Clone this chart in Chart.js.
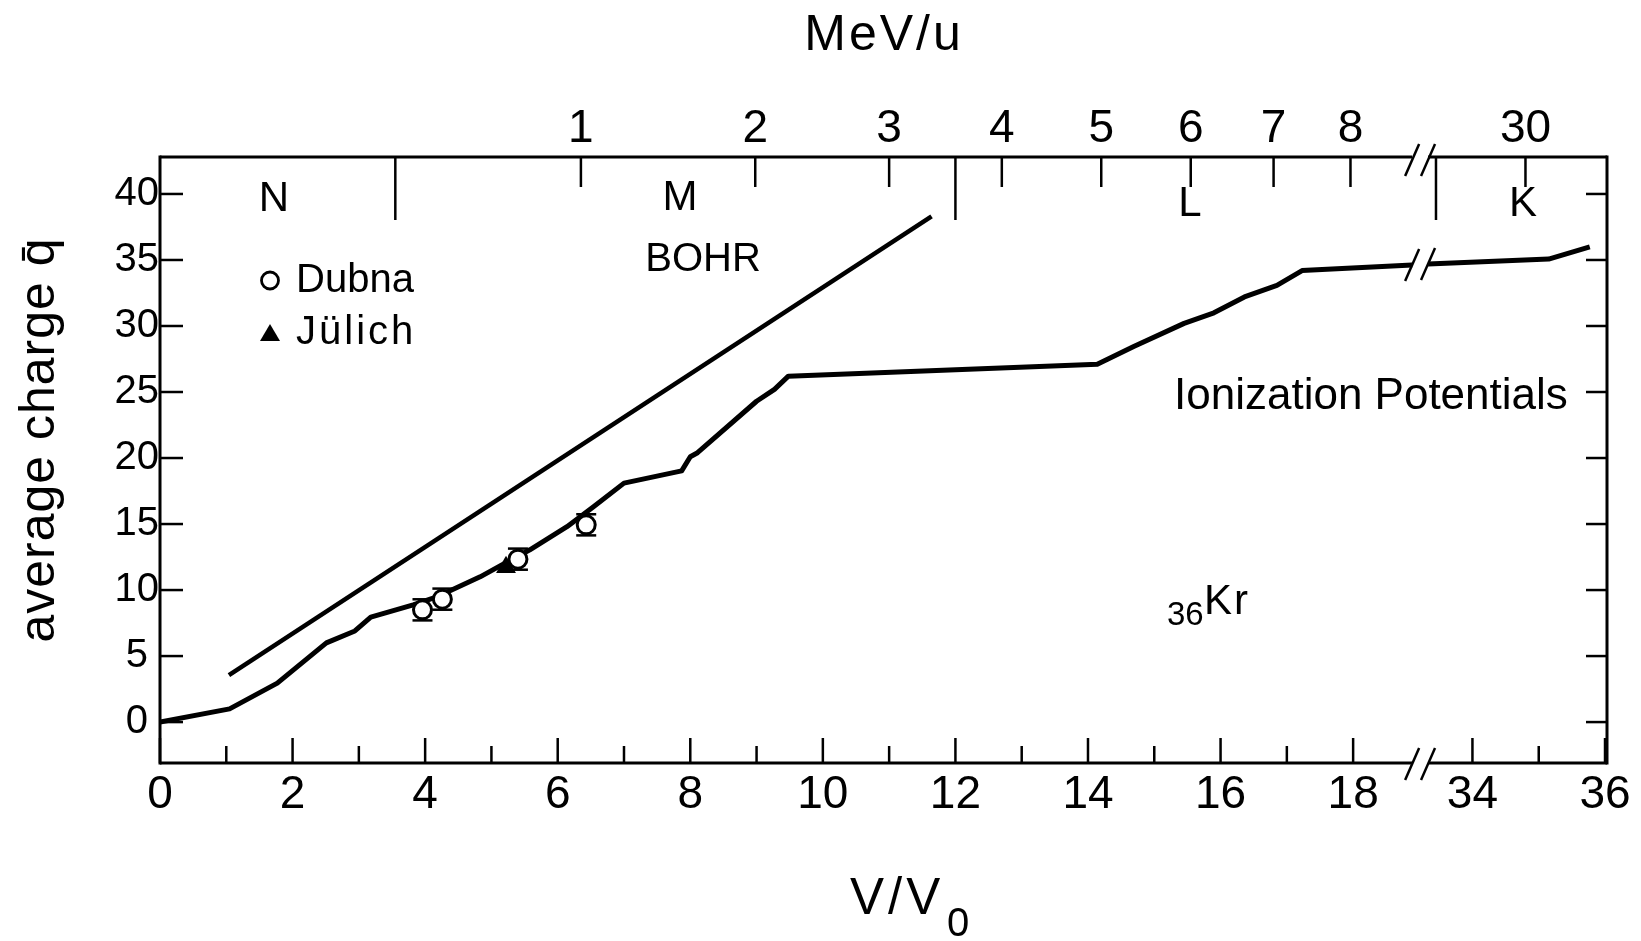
<!DOCTYPE html>
<html><head><meta charset="utf-8">
<script src="https://cdn.jsdelivr.net/npm/chart.js@4.4.1/dist/chart.umd.min.js"></script>
<style>html,body{margin:0;padding:0;background:#fff}#wrap{width:1641px;height:941px;position:relative}</style>
</head><body><div id="wrap"><canvas id="c"></canvas></div>
<script>
// ---------------- data ----------------
const vTicks = [0,2,4,6,8,10,12,14,16,18,34,36];
const vMinorTicks = [1,3,5,7,9,11,13,15,17,35];
const qTicks = [0,5,10,15,20,25,30,35,40];
const mevLabels = ['1','2','3','4','5','6','7','8','30'];
const mevAtV = [6.35,8.98,11.0,12.7,14.2,15.55,16.8,17.96,34.8];
const shellNames = ['N','M','L','K'];
const shellBoundV = [3.55,12.0,33.45];
const ionV1 = [0,1.05,1.77,2.51,2.94,3.18,3.82,4.12,4.40,4.83,5.13,5.58,6.14,6.54,7.0,7.87,8.0,8.11,9.0,9.27,9.48,14.14,14.69,15.45,15.9,16.36,16.85,17.23,18.89];
const ionQ1 = [0,1.0,2.95,6.0,6.9,7.95,8.88,9.38,10.0,11.0,11.83,13.05,14.8,16.3,18.1,19.03,20.1,20.4,24.3,25.2,26.2,27.1,28.45,30.2,31.0,32.2,33.07,34.2,34.62];
const ionV2 = [33.33,35.15,35.77];
const ionQ2 = [34.7,35.07,36.0];
const bohrV = [1.04,11.64];
const bohrQ = [3.56,38.3];
const dubnaV = [3.96,4.26,5.40,6.43];
const dubnaQ = [8.5,9.31,12.34,14.94];
const dubnaErr = [0.8,0.8,0.8,0.8];
const julichV = [5.22];
const julichQ = [11.73];

// ---------------- broken axis mapping ----------------
const GAP_LO = 19.0, SHIFT = 14.2;       // V/V0 above 19 lives on the right-hand segment
function toAxis(v){ return v > GAP_LO ? v - SHIFT : v; }
const BREAK_A = 18.89, BREAK_B = 19.13;  // axis units of the break marks

const FONT = "'Liberation Sans', Arial, sans-serif";
const pts = (xs, ys) => xs.map((v,i)=>({x: toAxis(v), y: ys[i]}));

function seg(ctx,x1,y1,x2,y2,w){ctx.beginPath();ctx.lineWidth=w;ctx.moveTo(x1,y1);ctx.lineTo(x2,y2);ctx.stroke();}
function txt(ctx,s,x,y,size,align,ls){
  ctx.font = size+'px '+FONT; ctx.textAlign = align||'center'; ctx.textBaseline='middle';
  ctx.letterSpacing = (ls||0)+'px'; ctx.fillText(s,x,y); ctx.letterSpacing='0px';
}

const decor = {
  id:'decor',
  beforeDatasetDraw(chart, args){
    if (args.index !== 0) return;
    const ctx = chart.ctx, xs = chart.scales.x, ys = chart.scales.y;
    ctx.save(); ctx.strokeStyle='#000';
    dubnaV.forEach((v,i)=>{
      const x = xs.getPixelForValue(toAxis(v));
      const y1 = ys.getPixelForValue(dubnaQ[i]-dubnaErr[i]);
      const y2 = ys.getPixelForValue(dubnaQ[i]+dubnaErr[i]);
      seg(ctx,x,y1,x,y2,2.5);
      seg(ctx,x-10,y1,x+10,y1,2.5);
      seg(ctx,x-10,y2,x+10,y2,2.5);
    });
    ctx.restore();
  },
  afterDatasetsDraw(chart){
    const ctx = chart.ctx, xs = chart.scales.x, ys = chart.scales.y, ca = chart.chartArea;
    ctx.save(); ctx.strokeStyle='#000'; ctx.fillStyle='#000'; ctx.lineCap='butt';
    const bA = xs.getPixelForValue(BREAK_A), bB = xs.getPixelForValue(BREAK_B);
    // frame
    seg(ctx,ca.left,ca.top-1.5,ca.left,ca.bottom+1.5,3);
    seg(ctx,ca.right,ca.top-1.5,ca.right,ca.bottom+1.5,3);
    seg(ctx,ca.left,ca.top,bA,ca.top,3); seg(ctx,bB,ca.top,ca.right,ca.top,3);
    seg(ctx,ca.left,ca.bottom,bA,ca.bottom,3); seg(ctx,bB,ca.bottom,ca.right,ca.bottom,3);
    // break slashes
    const slash = (cx,cy)=>seg(ctx,cx-7,cy+16,cx+7,cy-16,2.5);
    [ca.top+3, ca.bottom+1].forEach(y=>{slash(bA,y);slash(bB,y);});
    slash(bA, ys.getPixelForValue(ionQ1[ionQ1.length-1]));
    slash(bB, ys.getPixelForValue(ionQ2[0]));
    // bottom ticks
    vTicks.forEach(v=>{const x=xs.getPixelForValue(toAxis(v)); seg(ctx,x,ca.bottom,x,ca.bottom-25,2.5);});
    vMinorTicks.forEach(v=>{const x=xs.getPixelForValue(toAxis(v)); seg(ctx,x,ca.bottom,x,ca.bottom-17,2.5);});
    // y ticks left & right
    qTicks.forEach(q=>{const y=ys.getPixelForValue(q); seg(ctx,ca.left,y,ca.left+23,y,2.5); seg(ctx,ca.right,y,ca.right-21,y,2.5);});
    // top MeV/u ticks
    mevAtV.forEach(v=>{const x=xs.getPixelForValue(toAxis(v)); seg(ctx,x,ca.top,x,ca.top+30,2.5);});
    shellBoundV.forEach(v=>{const x=xs.getPixelForValue(toAxis(v)); seg(ctx,x,ca.top,x,ca.top+63,2.5);});
    ctx.restore();
  },
  afterDraw(chart){
    const ctx = chart.ctx;
    ctx.save(); ctx.fillStyle='#000'; ctx.strokeStyle='#000';
    // axis titles
    txt(ctx,'MeV/u',884,36,50,'center',3);
    txt(ctx,'V/V',850,900,51,'left',4);
    txt(ctx,'0',947,925,40,'left');
    ctx.save(); ctx.translate(40,440); ctx.rotate(-Math.PI/2);
    txt(ctx,'average charge q\u0304',0,0,50,'center',1);
    ctx.restore();
    // shells
    const shellPos = [[274,199],[680,198],[1190,204],[1523,204]];
    shellNames.forEach((s,i)=>txt(ctx,s,shellPos[i][0],shellPos[i][1],42,'center'));
    txt(ctx,'BOHR',703,260,40,'center');
    // legend
    ctx.beginPath(); ctx.lineWidth=2.8; ctx.arc(270,280.5,8.5,0,Math.PI*2); ctx.fillStyle='#fff'; ctx.fill(); ctx.stroke();
    ctx.fillStyle='#000';
    txt(ctx,'Dubna',296,281,40,'left');
    ctx.beginPath(); ctx.moveTo(270,324); ctx.lineTo(280,341); ctx.lineTo(260,341); ctx.closePath(); ctx.fill();
    txt(ctx,'Jülich',296,333,40,'left',3);
    txt(ctx,'Ionization Potentials',1174,397,44,'left');
    txt(ctx,'36',1167,616,33,'left');
    txt(ctx,'Kr',1204,602,42,'left',2);
    ctx.restore();
  }
};

new Chart(document.getElementById('c'), {
  type:'scatter',
  data:{ datasets:[
    {label:'Dubna', data:pts(dubnaV,dubnaQ), pointStyle:'circle', pointRadius:9, borderWidth:3, borderColor:'#000', backgroundColor:'#fff', showLine:false},
    {label:'Jülich', data:pts(julichV,julichQ), pointStyle:'triangle', pointRadius:11.5, borderWidth:0, borderColor:'#000', backgroundColor:'#000', showLine:false},
    {label:'Ionization Potentials', data:pts(ionV1,ionQ1), showLine:true, borderColor:'#000', borderWidth:5, pointRadius:0, tension:0, borderJoinStyle:'round', borderCapStyle:'butt'},
    {label:'Ionization Potentials (high)', data:pts(ionV2,ionQ2), showLine:true, borderColor:'#000', borderWidth:5, pointRadius:0, tension:0, borderJoinStyle:'round'},
    {label:'BOHR', data:pts(bohrV,bohrQ), showLine:true, borderColor:'#000', borderWidth:4.5, pointRadius:0, tension:0}
  ]},
  options:{
    responsive:true, maintainAspectRatio:false, animation:false, events:[],
    layout:{padding:{left:0,right:34,top:0,bottom:0}},
    plugins:{legend:{display:false}, tooltip:{enabled:false}},
    scales:{
      x:{type:'linear', position:'bottom', min:0, max:21.83,
        grid:{display:false, drawTicks:false}, border:{display:false},
        afterBuildTicks(s){ s.ticks = vTicks.map(v=>({value:toAxis(v)})); },
        afterFit(s){ s.height = 178; },
        ticks:{autoSkip:false, maxRotation:0, minRotation:0, padding:5, color:'#000',
          font:{family:FONT, size:46}, callback:(val,i)=>String(vTicks[i])}
      },
      x2:{type:'linear', position:'top', min:0, max:21.83,
        grid:{display:false, drawTicks:false}, border:{display:false},
        afterBuildTicks(s){ s.ticks = mevAtV.map(v=>({value:toAxis(v)})); },
        afterFit(s){ s.height = 157; },
        ticks:{autoSkip:false, maxRotation:0, minRotation:0, padding:0, color:'#000',
          font:{family:FONT, size:46}, callback:(val,i)=>mevLabels[i]}
      },
      y:{type:'linear', position:'left', min:-3.1, max:42.8,
        grid:{display:false, drawTicks:false}, border:{display:false},
        afterBuildTicks(s){ s.ticks = qTicks.map(v=>({value:v})); },
        afterFit(s){ s.width = 160; },
        ticks:{autoSkip:false, padding:1, crossAlign:'center', color:'#000',
          font:{family:FONT, size:40}, callback:(val)=>String(val)}
      }
    }
  },
  plugins:[decor]
});
</script>
</body></html>
